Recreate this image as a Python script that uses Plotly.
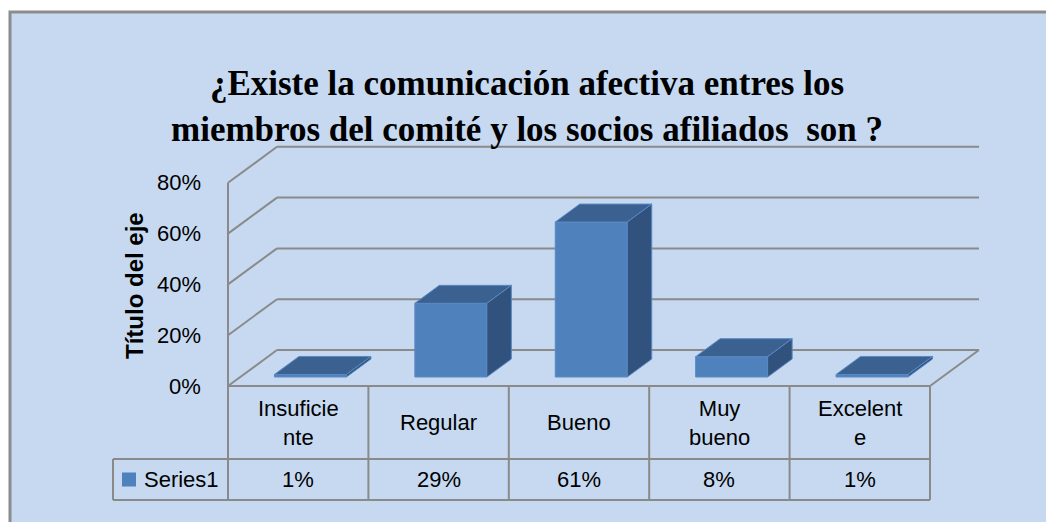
import plotly.graph_objects as go

# data
categories = ["Insuficiente", "Regular", "Bueno", "Muy bueno", "Excelente"]
table_labels = ["Insuficie<br>nte", "Regular", "Bueno", "Muy<br>bueno", "Excelent<br>e"]
values = [1, 29, 61, 8, 1]
value_labels = ["1%", "29%", "61%", "8%", "1%"]
y_ticks = [0, 20, 40, 60, 80]
y_tick_labels = ["0%", "20%", "40%", "60%", "80%"]
series_name = "Series1"
title = "¿Existe la comunicación afectiva entres los<br>miembros del comité y los socios afiliados  son ?"
y_title = "Título del eje"

# fake 3d geometry (category units on x, percent on y)
OFF = 8                 # page body margin
PX_CAT = 140.4          # pixels per category
PX_PCT = 2.54           # pixels per percent
DX = 49 / PX_CAT        # depth vector of the floor
DY = 36 / PX_PCT
BAR_W = 72 / PX_CAT
ROW1 = -73 / PX_PCT     # table row lines
ROW2 = -114 / PX_PCT
LEFT_CELL = -0.5 - 115 / PX_CAT

n = len(categories)
grid = "#8a8a8a"
font = "Liberation Sans"

fig = go.Figure()

# walls, floor and table lines
lx, ly = [], []
def seg(x0, y0, x1, y1):
    lx.extend([x0, x1, None])
    ly.extend([y0, y1, None])

for t in y_ticks:
    seg(-0.5, t, -0.5 + DX, t + DY)
    seg(-0.5 + DX, t + DY, n - 0.5 + DX, t + DY)
seg(n - 0.5, 0, n - 0.5 + DX, DY)
seg(-0.5, y_ticks[-1], -0.5, ROW2)
seg(-0.5, 0, n - 0.5, 0)
seg(LEFT_CELL, ROW1, n - 0.5, ROW1)
seg(LEFT_CELL, ROW2, n - 0.5, ROW2)
seg(LEFT_CELL, ROW1, LEFT_CELL, ROW2)
for k in range(1, n + 1):
    seg(-0.5 + k, 0, -0.5 + k, ROW2)

fig.add_trace(go.Scatter(x=lx, y=ly, mode="lines", line=dict(color=grid, width=2),
                         hoverinfo="skip", showlegend=False))

# 3d columns
fx, fy, tx, ty, sx, sy = [], [], [], [], [], []
for i, v in enumerate(values):
    x0 = i + 0.25 * DX - BAR_W / 2
    x1 = x0 + BAR_W
    b = 0.25 * DY
    top = b + v
    ddx, ddy = 0.5 * DX, 0.5 * DY
    fx += [x0, x1, x1, x0, x0, None]
    fy += [b, b, top, top, b, None]
    tx += [x0, x1, x1 + ddx, x0 + ddx, x0, None]
    ty += [top, top, top + ddy, top + ddy, top, None]
    sx += [x1, x1 + ddx, x1 + ddx, x1, x1, None]
    sy += [b, b + ddy, top + ddy, top, b, None]

for xs, ys, col in [(fx, fy, "#4f81bd"), (tx, ty, "#3a6190"), (sx, sy, "#30527c")]:
    fig.add_trace(go.Scatter(x=xs, y=ys, mode="lines", fill="toself", fillcolor=col,
                             line=dict(color="#5a8ac4", width=1), hoverinfo="skip",
                             showlegend=False))

# legend key in the data table
fig.add_trace(go.Scatter(x=[LEFT_CELL + 16 / PX_CAT], y=[(ROW1 + ROW2) / 2], mode="markers",
                         marker=dict(symbol="square", size=14, color="#4f81bd"),
                         hoverinfo="skip", showlegend=False))

ann = []
for t, lab in zip(y_ticks, y_tick_labels):
    ann.append(dict(x=-0.5, y=t, text=lab, xanchor="right", yanchor="middle", xshift=-25,
                    showarrow=False, font=dict(size=22, color="#000", family=font)))
for i, lab in enumerate(table_labels):
    ann.append(dict(x=i, y=ROW1 / 2, text=lab, showarrow=False,
                    font=dict(size=22, color="#000", family=font)))
for i, lab in enumerate(value_labels):
    ann.append(dict(x=i, y=(ROW1 + ROW2) / 2, text=lab, showarrow=False,
                    font=dict(size=22, color="#000", family=font)))
ann.append(dict(x=LEFT_CELL + 29 / PX_CAT, y=(ROW1 + ROW2) / 2, text=series_name, xanchor="left",
                showarrow=False, font=dict(size=22, color="#000", family=font)))
ann.append(dict(x=-0.5 - 94 / PX_CAT, y=(386 - 286) / PX_PCT, text="<b>" + y_title + "</b>",
                textangle=-90, showarrow=False, font=dict(size=24, color="#000", family=font)))
ann.append(dict(xref="paper", yref="paper", x=(527 - OFF) / 1054, y=1 - (106 - OFF) / 522,
                yanchor="middle", text="<b>" + title + "</b>",
                showarrow=False, font=dict(size=35, color="#000", family="Liberation Serif")))

fig.update_layout(
    width=1054, height=522,
    margin=dict(l=0, r=0, t=0, b=0),
    paper_bgcolor="white", plot_bgcolor="rgba(0,0,0,0)",
    xaxis=dict(range=[-0.5 - (228 - OFF) / PX_CAT, -0.5 + (1054 + OFF - 228) / PX_CAT],
               visible=False, fixedrange=True),
    yaxis=dict(range=[-(522 + OFF - 386) / PX_PCT, (386 - OFF) / PX_PCT], visible=False, fixedrange=True),
    shapes=[dict(type="rect", xref="paper", yref="paper", x0=(10 - OFF) / 1054, x1=1.05, y0=-0.05,
                 y1=1 - (12 - OFF) / 522,
                 fillcolor="#c6d9f1", line=dict(color="#8c8c8c", width=3), layer="below")],
    annotations=ann,
    showlegend=False,
)

fig.write_html("out.html")
